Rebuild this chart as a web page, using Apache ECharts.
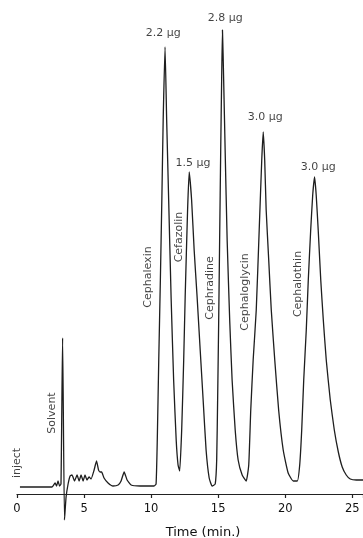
<!DOCTYPE html>
<html>
<head>
<meta charset="utf-8">
<script src="https://cdn.jsdelivr.net/npm/echarts@6/dist/echarts.min.js"></script>
<style>
html,body{margin:0;padding:0;background:#fff;}
#chart{width:363px;height:538px;}
</style>
</head>
<body>
<div id="chart"></div>
<script>
// Retention time (min) and detector response (arbitrary units, 0 = axis line)
var times = [0.22, 2.61, 2.84, 2.95, 3.06, 3.17, 3.28, 3.40, 3.54, 3.66, 3.81, 3.96, 4.10, 4.29, 4.48, 4.63, 4.78, 4.93, 5.07, 5.22, 5.37, 5.52, 5.75, 5.93, 6.08, 6.19, 6.31, 6.49, 6.79, 7.16, 7.54, 7.76, 7.99, 8.21, 8.51, 9.18, 10.22, 10.37,
  10.46, 10.57, 10.69, 10.80, 10.90, 11.04, 11.16, 11.31, 11.49, 11.68, 11.87, 12.01, 12.13,
  12.28, 12.43, 12.54, 12.72, 12.84, 13.02, 13.21, 13.43, 13.66, 13.88, 14.10, 14.33, 14.55, 14.78,
  14.89, 14.96, 15.04, 15.11, 15.19, 15.26, 15.32, 15.41, 15.52, 15.67, 15.86, 16.04, 16.27, 16.49, 16.79, 17.09,
  17.28, 17.43, 17.61, 17.84, 18.06, 18.25, 18.36, 18.47, 18.58, 18.77, 18.96, 19.22, 19.51, 19.85, 20.22, 20.60, 20.90,
  21.08, 21.23, 21.38, 21.57, 21.72, 21.90, 22.05, 22.19, 22.31, 22.46, 22.65, 22.84, 23.06, 23.36, 23.66, 23.96, 24.25, 24.55, 24.85, 25.30, 25.80];
var signal = [7, 7, 11, 8, 13, 8, 10, 156, -26, -3, 10, 18, 19, 13, 19, 13, 19, 13, 19, 14, 17, 15, 24, 33, 24, 22, 22, 16, 11, 8, 9, 13, 22, 14, 9, 8, 8, 10,
  54, 134, 214, 294, 374, 447, 374, 294, 197, 114, 54, 29, 23,
  64, 134, 197, 284, 322, 294, 244, 197, 144, 94, 44, 16, 8, 10,
  34, 94, 174, 254, 344, 414, 464, 414, 344, 254, 174, 114, 64, 34, 19, 13,
  29, 84, 134, 184, 264, 334, 362, 334, 284, 234, 184, 134, 84, 44, 21, 13, 13,
  29, 64, 114, 164, 214, 264, 299, 317, 299, 264, 214, 174, 134, 94, 64, 42, 27, 19, 15, 14, 14];

// Axis ticks
var xTicks = [0, 5, 10, 15, 20, 25];

// Annotations: text, anchor time, anchor response, vertical?
var noteText  = ['inject', 'Solvent', 'Cephalexin', 'Cefazolin', 'Cephradine', 'Cephaloglycin', 'Cephalothin',
                 '2.2 \u03bcg', '1.5 \u03bcg', '2.8 \u03bcg', '3.0 \u03bcg', '3.0 \u03bcg'];
var noteTime  = [0.0, 2.61, 9.78, 12.09, 14.40, 17.01, 20.97, 10.90, 13.13, 15.52, 18.51, 22.46];
var noteLevel = [32, 81, 217, 257, 206, 202, 210, 461, 331, 476, 377, 327];
var noteVertical = [true, true, true, true, true, true, true, false, false, false, false, false];

var lineData = times.map(function (t, i) { return [t, signal[i]]; });
var noteData = noteText.map(function (s, i) {
  return {
    name: s,
    value: [noteTime[i], noteLevel[i]],
    label: { rotate: noteVertical[i] ? 90 : 0, offset: i === 0 ? [-1, 0] : [0, 0] }
  };
});

var chart = echarts.init(document.getElementById('chart'));
var fontFam = 'DejaVu Sans';
chart.setOption({
  animation: false,
  backgroundColor: '#ffffff',
  grid: { left: 17, right: 0, top: 4, bottom: 44, containLabel: false, outerBoundsMode: 'none' },
  xAxis: {
    type: 'value',
    min: 0,
    max: 25.8,
    interval: 5,
    axisLine: { show: true, onZero: false, lineStyle: { color: '#222', width: 1.2 } },
    axisTick: { show: true, inside: false, length: 4, lineStyle: { color: '#222', width: 1.2 } },
    splitLine: { show: false },
    axisLabel: {
      color: '#111', fontSize: 11.5, fontFamily: fontFam, margin: 9,
      showMaxLabel: true,
      formatter: function (v) { return xTicks.indexOf(v) >= 0 ? String(v) : ''; }
    },
    name: 'Time (min.)',
    nameLocation: 'middle',
    nameGap: 32,
    nameTextStyle: { color: '#111', fontSize: 13, fontFamily: fontFam, padding: [0, 0, 0, 26] }
  },
  yAxis: {
    type: 'value',
    min: 0,
    max: 490,
    show: false
  },
  series: [
    {
      type: 'line',
      data: lineData,
      showSymbol: false,
      smooth: 0.15,
      clip: false,
      lineStyle: { color: '#1e1e1e', width: 1.3 },
      silent: true
    },
    {
      type: 'scatter',
      data: noteData,
      symbolSize: 0,
      clip: false,
      silent: true,
      label: {
        show: true,
        position: 'inside',
        formatter: '{b}',
        color: '#111',
        fontSize: 11,
        fontFamily: fontFam
      }
    }
  ]
});
</script>
</body>
</html>
